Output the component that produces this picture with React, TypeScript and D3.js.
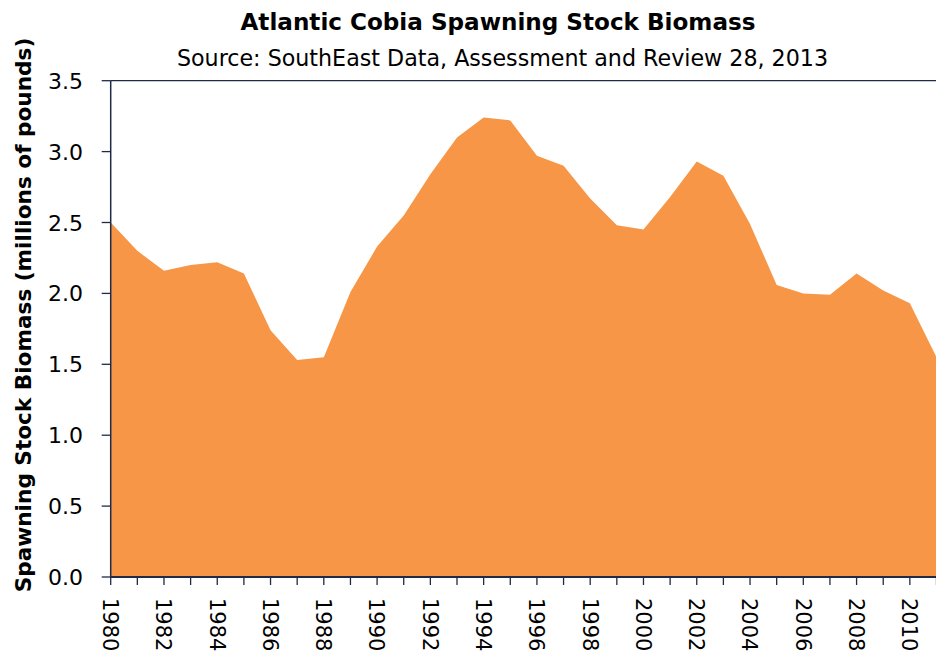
import React from "react";
import * as d3 from "d3";

const years: number[] = d3.range(1980, 2012);
const biomass: number[] = [
  2.5, 2.3, 2.16, 2.2, 2.22, 2.14, 1.74, 1.53, 1.55, 2.01,
  2.33, 2.55, 2.84, 3.1, 3.24, 3.22, 2.97, 2.9, 2.67, 2.48,
  2.45, 2.68, 2.93, 2.83, 2.49, 2.06, 2.0, 1.99, 2.14, 2.02,
  1.93, 1.55,
];
const yTicks: number[] = [0, 0.5, 1, 1.5, 2, 2.5, 3, 3.5];
const xLabelYears: number[] = d3.range(1980, 2011, 2);

const title = "Atlantic Cobia Spawning Stock Biomass";
const subtitle = "Source: SouthEast Data, Assessment and Review 28, 2013";
const yTitle = "Spawning Stock Biomass (millions of pounds)";

const W = 936;
const H = 656;
const left = 110.7;
const right = 936.5;
const top = 80.7;
const bottom = 577;
const axisColor = "#1f2a48";
const fillColor = "#F79646";
const font = "'DejaVu Sans', sans-serif";

export default function App() {
  const x = d3.scaleLinear().domain([1980, 2011]).range([left, right]);
  const y = d3.scaleLinear().domain([0, 3.5]).range([bottom, top]);
  const data = years.map((yr, i) => ({ yr, v: biomass[i] }));
  const area = d3
    .area<{ yr: number; v: number }>()
    .x((d) => x(d.yr))
    .y0(y(0))
    .y1((d) => y(d.v));

  return (
    <svg
      width={W}
      height={H}
      style={{ position: "absolute", left: 0, top: 0, background: "#fff" }}
      fontFamily={font}
    >
      <rect x={0} y={0} width={W} height={H} fill="#fff" />
      <text x={498} y={29.5} textAnchor="middle" fontSize={23.1} fontWeight="bold" fill="#000">
        {title}
      </text>
      <text x={502.5} y={65.5} textAnchor="middle" fontSize={22.2} fill="#000">
        {subtitle}
      </text>

      <path d={area(data) || ""} fill={fillColor} />

      {/* top border */}
      <line x1={left} x2={W} y1={y(3.5)} y2={y(3.5)} stroke={axisColor} strokeWidth={1.3} />

      {/* y axis */}
      <line x1={left} x2={left} y1={top} y2={bottom} stroke={axisColor} strokeWidth={1.5} />
      {yTicks.map((t) => (
        <g key={t}>
          <line x1={left - 9} x2={left} y1={y(t)} y2={y(t)} stroke={axisColor} strokeWidth={1.3} />
          <text x={83} y={y(t)} dy="0.364em" textAnchor="end" fontSize={22} fill="#000">
            {t.toFixed(1)}
          </text>
        </g>
      ))}

      {/* x axis */}
      <line x1={left} x2={W} y1={bottom} y2={bottom} stroke={axisColor} strokeWidth={1.8} />
      {years.map((yr) => (
        <line key={yr} x1={x(yr)} x2={x(yr)} y1={bottom} y2={bottom + 8} stroke={axisColor} strokeWidth={1.3} />
      ))}
      {xLabelYears.map((yr) => (
        <text
          key={yr}
          transform={`translate(${x(yr)},598) rotate(90)`}
          dy="0.364em"
          textAnchor="start"
          fontSize={21}
          fill="#000"
        >
          {yr}
        </text>
      ))}

      <text
        transform={`translate(31,315) rotate(-90)`}
        textAnchor="middle"
        fontSize={21.6}
        fontWeight="bold"
        fill="#000"
      >
        {yTitle}
      </text>
    </svg>
  );
}
